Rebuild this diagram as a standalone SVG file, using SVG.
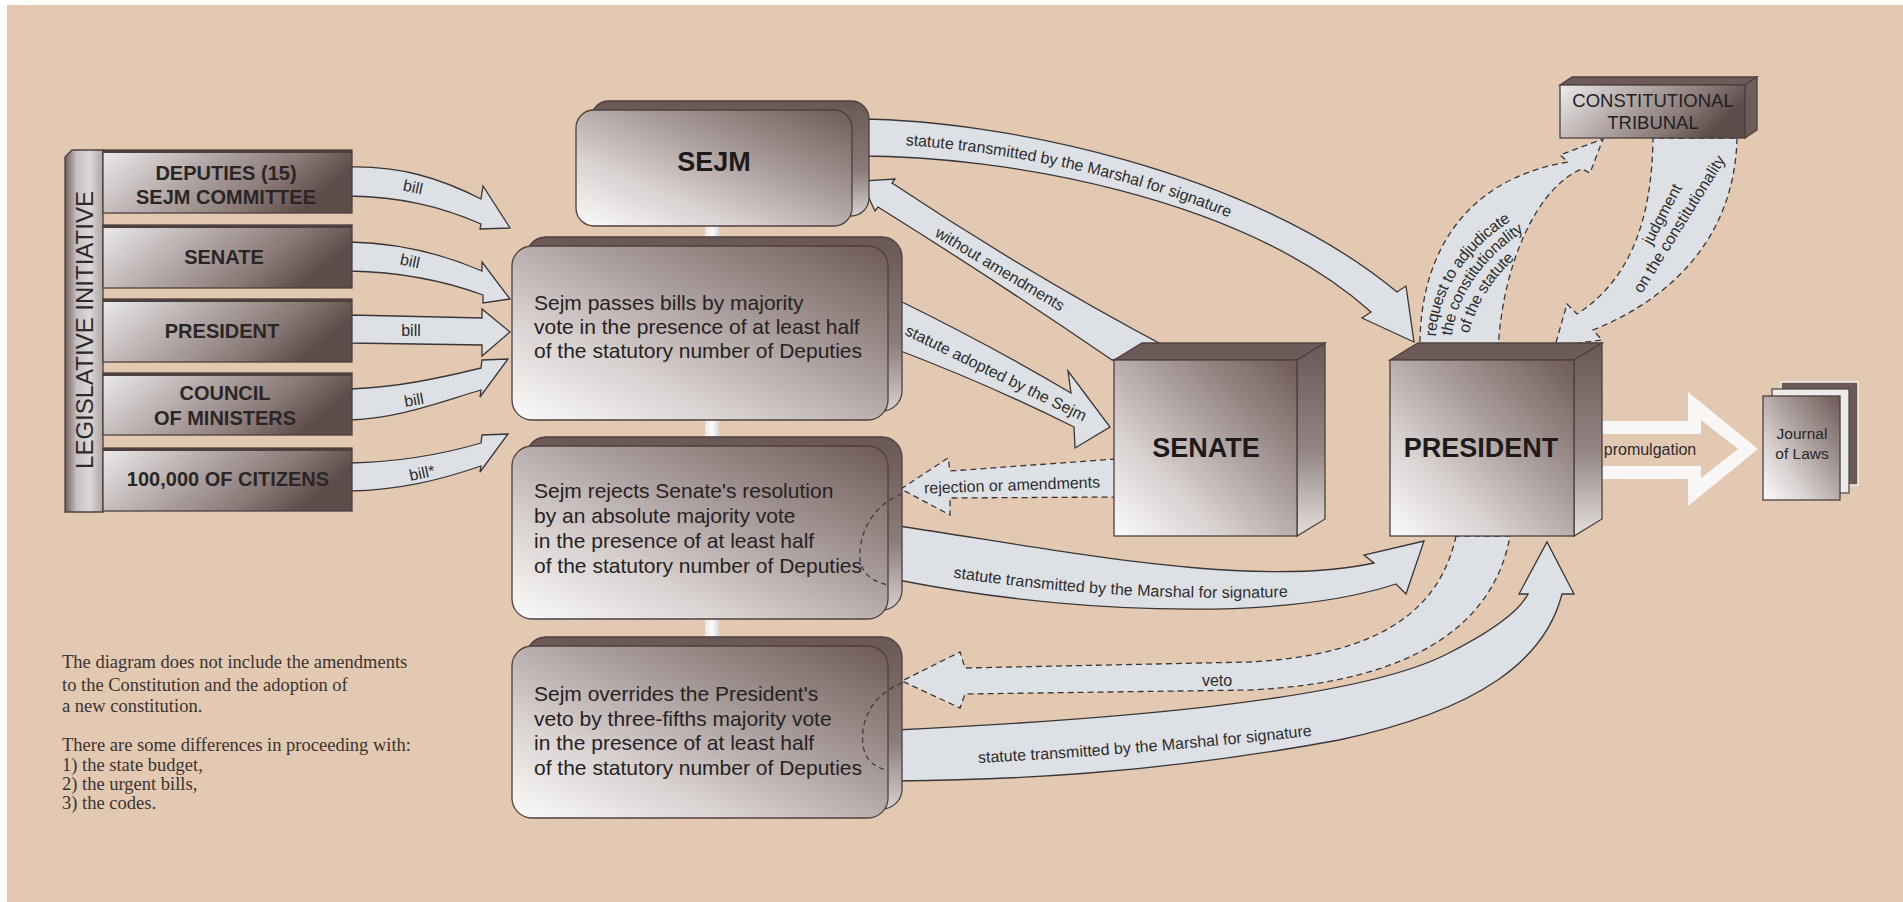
<svg xmlns="http://www.w3.org/2000/svg" width="1903" height="902" viewBox="0 0 1903 902">
<defs>
<style>
.it{font-family:"Liberation Sans",Arial,sans-serif;font-weight:bold;font-size:20px;fill:#2b2626;text-anchor:middle}
.body{font-family:"Liberation Sans",Arial,sans-serif;font-size:21px;fill:#262222}
.big{font-family:"Liberation Sans",Arial,sans-serif;font-weight:bold;font-size:27px;fill:#1e1a1a;text-anchor:middle}
.lbl{font-family:"Liberation Sans",Arial,sans-serif;font-size:16px;fill:#2e2c2c}
.c{text-anchor:middle;dominant-baseline:central}
.note{font-family:"Liberation Serif","Times New Roman",serif;font-size:18.5px;fill:#3a3330}
.arr{fill:#dde1e6;stroke:#3a3636;stroke-width:1.3;stroke-linejoin:miter}
.dash{stroke-dasharray:6 4}
.edge{fill:none;stroke:#3a3636;stroke-width:1.2;stroke-dasharray:5 4}
.ol{stroke:#4d403e;stroke-width:1.3}
</style>
<linearGradient id="gInit" x1="0" y1="0" x2="1" y2="0.3">
<stop offset="0" stop-color="#ecebec"/><stop offset="0.35" stop-color="#bdb4b3"/><stop offset="0.75" stop-color="#8a7a78"/><stop offset="1" stop-color="#5e4c4a"/>
</linearGradient>
<linearGradient id="gBar" x1="0" y1="0" x2="1" y2="0">
<stop offset="0" stop-color="#6f5e5c"/><stop offset="0.3" stop-color="#c5bfbf"/><stop offset="0.65" stop-color="#dcd8d8"/><stop offset="1" stop-color="#b0a6a5"/>
</linearGradient>
<linearGradient id="gFace" x1="0" y1="1" x2="1" y2="0">
<stop offset="0" stop-color="#fbfafa"/><stop offset="0.3" stop-color="#d8d2d1"/><stop offset="0.65" stop-color="#a19492"/><stop offset="1" stop-color="#6e5a58"/>
</linearGradient>
<linearGradient id="gBack" x1="0" y1="0" x2="0" y2="1">
<stop offset="0" stop-color="#6a5755"/><stop offset="0.6" stop-color="#8a7c7a"/><stop offset="1" stop-color="#d6d0cf"/>
</linearGradient>
<linearGradient id="gSide" x1="0" y1="0" x2="0" y2="1">
<stop offset="0" stop-color="#6a5856"/><stop offset="0.55" stop-color="#928583"/><stop offset="1" stop-color="#e4e0df"/>
</linearGradient>
<linearGradient id="gBar2" x1="0" y1="0" x2="1" y2="0">
<stop offset="0" stop-color="#e6e4e4"/><stop offset="0.5" stop-color="#fbfbfb"/><stop offset="1" stop-color="#dcd8d8"/>
</linearGradient>
<path id="tp1" d="M862,138 C1000,138 1245,183 1384,302"/>
<path id="tp2" d="M950,571 Q1130,598 1310,590"/>
<path id="tp3" d="M978,757 Q1155,748 1335,727"/>
<path id="r1" d="M1430,338 C1431,290 1463,240 1518,210"/>
<path id="r2" d="M1445,347 C1446,299 1478,249 1533,219"/>
<path id="r3" d="M1460,356 C1461,308 1493,258 1548,228"/>
</defs>

<rect x="0" y="0" width="1903" height="902" fill="#ffffff"/>
<rect x="7" y="5" width="1896" height="897" fill="#e3c9b2"/>

<g id="connectors">
<!-- vertical links between Sejm stages -->
<rect x="705" y="215" width="14" height="40" fill="url(#gBar2)"/>
<rect x="705" y="412" width="14" height="40" fill="url(#gBar2)"/>
<rect x="705" y="612" width="14" height="40" fill="url(#gBar2)"/>

<!-- bill arrows -->
<path class="arr" d="M350,167 C400,166 440,178 481,199 L483,186 L510,228 L480,229 L481,224 C440,206 400,197 350,196 Z"/>
<path class="arr" d="M350,242 C400,243 445,255 482,271 L482,262 L510,299 L483,303 L483,295 C445,281 400,272 350,271 Z"/>
<path class="arr" d="M350,315 L482,318 L482,309 L510,332 L482,356 L482,345 L350,343 Z"/>
<path class="arr" d="M350,389 C400,387 440,378 481,368 L482,360 L508,359 L480,397 L481,390 C440,402 400,418 350,420 Z"/>
<path class="arr" d="M350,463 C400,462 440,455 481,443 L482,435 L508,434 L480,472 L481,466 C440,480 400,490 350,491 Z"/>
<text class="lbl c" font-size="15" transform="translate(413,187) rotate(12)">bill</text>
<text class="lbl c" font-size="15" transform="translate(410,261) rotate(12)">bill</text>
<text class="lbl c" font-size="15" transform="translate(411,330)">bill</text>
<text class="lbl c" font-size="15" transform="translate(414,400) rotate(-10)">bill</text>
<text class="lbl c" font-size="15" transform="translate(422,473) rotate(-12)">bill*</text>

<!-- Sejm -> President (top) -->
<path class="arr" d="M860,119 C1000,120 1250,170 1397,292 L1406,286 L1414,342 L1362,318 L1371,312 C1240,195 1000,156 860,156 Z"/>
<text class="lbl" dominant-baseline="central"><textPath href="#tp1" startOffset="44">statute transmitted by the Marshal for signature</textPath></text>

<!-- Senate -> Sejm without amendments -->
<path class="arr" d="M1172,350 Q1030,275 892,183 L895,179 L861,181 L875,211 L878,207 Q995,280 1112,360 Z"/>
<text class="lbl c" transform="translate(1000,269) rotate(31)">without amendments</text>

<!-- Sejm -> Senate statute adopted -->
<path class="arr" d="M898,300 Q990,345 1071,393 L1068,371 L1110,427 L1075,448 L1074,427 Q990,385 898,350 Z"/>
<text class="lbl c" transform="translate(996,373) rotate(26)">statute adopted by the Sejm</text>

<!-- Senate -> Sejm rejection or amendments (dashed) -->
<path class="arr dash" d="M1116,459 L950,471 L948,458 L901,489 L950,515 L950,498 L1116,497 Z"/>
<text class="lbl c" transform="translate(1012,485) rotate(-2)">rejection or amendments</text>

<!-- Sejm (rejects) -> President -->
<path class="arr" d="M898,526 C1050,548 1250,590 1374,563 L1364,555 L1424,541 L1406,594 L1396,584 C1270,625 1050,610 898,580 Z"/>
<text class="lbl" dominant-baseline="central"><textPath href="#tp2" startOffset="4">statute transmitted by the Marshal for signature</textPath></text>

<!-- President -> Sejm veto (dashed) -->
<path class="arr dash" d="M1456,536 C1440,610 1380,655 1250,662 L965,668 L960,652 L902,681 L960,708 L965,694 L1250,690 C1420,682 1495,620 1510,536 Z"/>
<text class="lbl c" x="1217" y="680">veto</text>

<!-- Sejm (overrides) -> President -->
<path class="arr" d="M896,730 C1100,720 1350,702 1445,655 C1495,630 1520,610 1528,594 L1519,594 L1547,542 L1574,594 L1562,594 C1545,660 1480,710 1339,740 C1150,775 1000,780 896,781 Z"/>
<text class="lbl" dominant-baseline="central"><textPath href="#tp3" startOffset="0">statute transmitted by the Marshal for signature</textPath></text>

<!-- President -> Tribunal request (dashed) -->
<path class="arr dash" d="M1420,352 C1418,260 1460,180 1568,162 L1560,155 L1603,139 L1590,173 L1582,169 C1540,185 1502,260 1498,352 Z"/>
<text class="lbl" font-size="14.5" dominant-baseline="central"><textPath href="#r1" startOffset="2">request to adjudicate</textPath></text>
<text class="lbl" font-size="14.5" dominant-baseline="central"><textPath href="#r2" startOffset="12">the constitutionality</textPath></text>
<text class="lbl" font-size="14.5" dominant-baseline="central"><textPath href="#r3" startOffset="24">of the statute</textPath></text>

<!-- Tribunal -> President judgment (dashed) -->
<path class="arr dash" d="M1737,138 C1735,230 1680,295 1593,330 L1602,340 L1555,346 L1567,304 L1577,314 C1630,280 1652,220 1653,138 Z"/>
<text class="lbl c" font-size="15" transform="translate(1662,214) rotate(-62)">judgment</text>
<text class="lbl c" font-size="15" transform="translate(1679,224) rotate(-58)">on the constitutionality</text>

<!-- promulgation -->
<path fill="#f8f7f6" d="M1598,421 L1688,421 L1688,392 L1758,449 L1688,506 L1688,479 L1598,479 Z"/>
<path fill="#e3c9b2" d="M1598,434 L1701,434 L1701,420 L1738,449 L1701,478 L1701,466 L1598,466 Z"/>
<text class="lbl c" font-size="14.5" x="1650" y="449">promulgation</text>
</g>

<g id="node-legislative-initiative">
<path d="M65,157 L72,150 L103,150 L103,512 L65,512 Z" fill="url(#gBar)" class="ol"/>
<text transform="translate(93,330) rotate(-90)" font-family="Liberation Sans, Arial, sans-serif" font-size="24" fill="#2f2a2a" text-anchor="middle">LEGISLATIVE INITIATIVE</text>
</g>

<g id="node-deputies">
<rect x="103" y="150" width="249" height="63" fill="url(#gInit)" class="ol"/>
<rect x="103" y="150" width="249" height="3" fill="#4e403e"/>
<text class="it" x="226" y="180">DEPUTIES (15)</text>
<text class="it" x="226" y="204">SEJM COMMITTEE</text>
</g>
<g id="node-senate-initiative">
<rect x="103" y="225" width="249" height="63" fill="url(#gInit)" class="ol"/>
<rect x="103" y="225" width="249" height="3" fill="#4e403e"/>
<text class="it" x="224" y="264">SENATE</text>
</g>
<g id="node-president-initiative">
<rect x="103" y="299" width="249" height="63" fill="url(#gInit)" class="ol"/>
<rect x="103" y="299" width="249" height="3" fill="#4e403e"/>
<text class="it" x="222" y="338">PRESIDENT</text>
</g>
<g id="node-council">
<rect x="103" y="373" width="249" height="62" fill="url(#gInit)" class="ol"/>
<rect x="103" y="373" width="249" height="3" fill="#4e403e"/>
<text class="it" x="225" y="400">COUNCIL</text>
<text class="it" x="225" y="425">OF MINISTERS</text>
</g>
<g id="node-citizens">
<rect x="103" y="448" width="249" height="63" fill="url(#gInit)" class="ol"/>
<rect x="103" y="448" width="249" height="3" fill="#4e403e"/>
<text class="it" x="228" y="486">100,000 OF CITIZENS</text>
</g>

<g id="node-sejm">
<rect x="591" y="101" width="278" height="115" rx="18" fill="url(#gBack)" class="ol"/>
<rect x="576" y="110" width="276" height="116" rx="18" fill="url(#gFace)" class="ol"/>
<text class="big" x="714" y="171">SEJM</text>
</g>

<g id="node-sejm-passes">
<rect x="526" y="237" width="376" height="174" rx="20" fill="url(#gBack)" class="ol"/>
<rect x="512" y="246" width="376" height="174" rx="20" fill="url(#gFace)" class="ol"/>
<text class="body" x="534" y="310">Sejm passes bills by majority</text>
<text class="body" x="534" y="334">vote in the presence of at least half</text>
<text class="body" x="534" y="358">of the statutory number of Deputies</text>
</g>

<g id="node-sejm-rejects">
<rect x="526" y="437" width="376" height="173" rx="20" fill="url(#gBack)" class="ol"/>
<rect x="512" y="446" width="376" height="173" rx="20" fill="url(#gFace)" class="ol"/>
<text class="body" x="534" y="498">Sejm rejects Senate's resolution</text>
<text class="body" x="534" y="523">by an absolute majority vote</text>
<text class="body" x="534" y="548">in the presence of at least half</text>
<text class="body" x="534" y="573">of the statutory number of Deputies</text>
<path class="edge" d="M902,494 C872,505 858,535 860,560 C862,575 875,583 890,585"/>
</g>

<g id="node-sejm-overrides">
<rect x="526" y="637" width="376" height="172" rx="20" fill="url(#gBack)" class="ol"/>
<rect x="512" y="646" width="376" height="172" rx="20" fill="url(#gFace)" class="ol"/>
<text class="body" x="534" y="701">Sejm overrides the President's</text>
<text class="body" x="534" y="726">veto by three-fifths majority vote</text>
<text class="body" x="534" y="750">in the presence of at least half</text>
<text class="body" x="534" y="775">of the statutory number of Deputies</text>
<path class="edge" d="M902,683 C872,695 860,720 863,745 C865,760 875,768 888,770"/>
</g>

<g id="node-senate">
<path d="M1114,360 L1142,343 L1325,343 L1297,360 Z" fill="#6d5b59" class="ol"/>
<path d="M1297,360 L1325,343 L1325,519 L1297,536 Z" fill="url(#gSide)" class="ol"/>
<rect x="1114" y="360" width="183" height="176" fill="url(#gFace)" class="ol"/>
<text class="big" x="1206" y="457">SENATE</text>
</g>

<g id="node-president">
<path d="M1390,360 L1418,343 L1602,343 L1574,360 Z" fill="#6d5b59" class="ol"/>
<path d="M1574,360 L1602,343 L1602,519 L1574,536 Z" fill="url(#gSide)" class="ol"/>
<rect x="1390" y="360" width="184" height="176" fill="url(#gFace)" class="ol"/>
<text class="big" x="1481" y="457">PRESIDENT</text>
</g>

<g id="node-tribunal">
<path d="M1560,85 L1572,77 L1757,77 L1745,85 Z" fill="#6d5b59" class="ol"/>
<path d="M1745,85 L1757,77 L1757,130 L1745,138 Z" fill="#6f5d5b" class="ol"/>
<rect x="1560" y="85" width="185" height="53" fill="url(#gInit)" class="ol"/>
<text x="1653" y="107" font-family="Liberation Sans, Arial, sans-serif" font-size="18.5" fill="#222" text-anchor="middle">CONSTITUTIONAL</text>
<text x="1653" y="129" font-family="Liberation Sans, Arial, sans-serif" font-size="18.5" fill="#222" text-anchor="middle">TRIBUNAL</text>
</g>

<g id="node-journal">
<rect x="1781" y="382" width="77" height="103" fill="#6b5957" stroke="#f2f0f0" stroke-width="1.5"/>
<rect x="1772" y="389" width="77" height="104" fill="#ecebeb" stroke="#4d403e" stroke-width="1.2"/>
<rect x="1763" y="396" width="77" height="104" fill="url(#gFace)" class="ol"/>
<text x="1802" y="439" font-family="Liberation Sans, Arial, sans-serif" font-size="15.5" fill="#2a2626" text-anchor="middle">Journal</text>
<text x="1802" y="459" font-family="Liberation Sans, Arial, sans-serif" font-size="15.5" fill="#2a2626" text-anchor="middle">of Laws</text>
</g>

<g id="notes">
<text class="note" x="62" y="668">The diagram does not include the amendments</text>
<text class="note" x="62" y="691">to the Constitution and the adoption of</text>
<text class="note" x="62" y="712">a new constitution.</text>
<text class="note" x="62" y="751">There are some differences in proceeding with:</text>
<text class="note" x="62" y="771">1) the state budget,</text>
<text class="note" x="62" y="790">2) the urgent bills,</text>
<text class="note" x="62" y="809">3) the codes.</text>
</g>
</svg>
